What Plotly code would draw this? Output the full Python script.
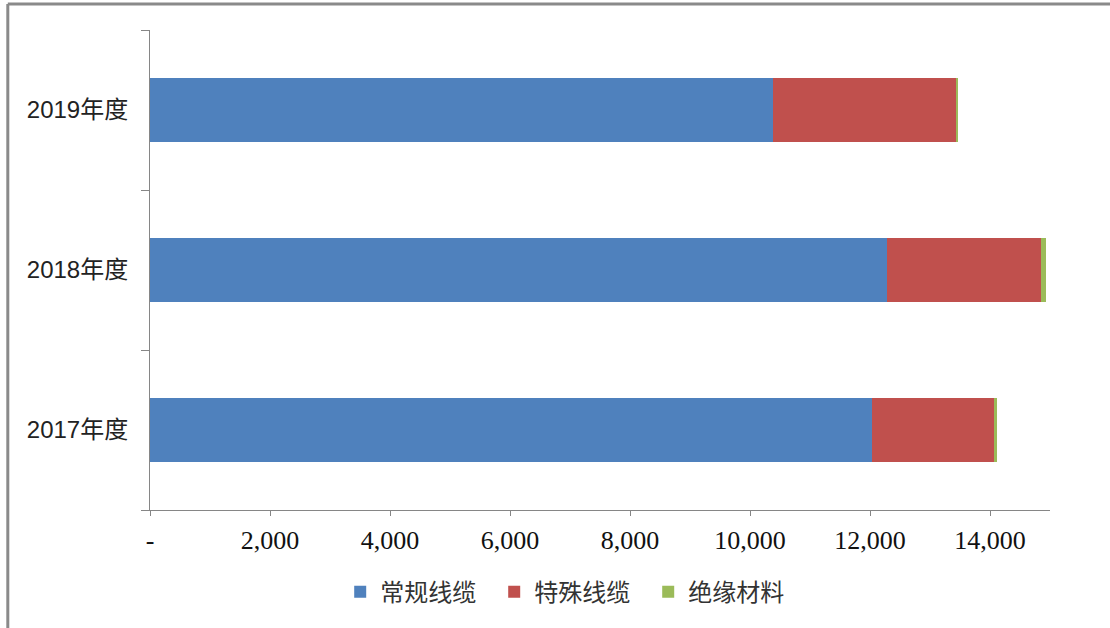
import plotly.graph_objects as go

categories = ["2017年度", "2018年度", "2019年度"]
series_names = ["常规线缆", "特殊线缆", "绝缘材料"]
conventional = [12040, 12285, 10385]
special = [2028, 2572, 3050]
insulation = [50, 78, 25]
colors = ["#4F81BD", "#C0504D", "#9BBB59"]
x_tickvals = [0, 2000, 4000, 6000, 8000, 10000, 12000, 14000]
x_ticktext = ["-", "2,000", "4,000", "6,000", "8,000", "10,000", "12,000", "14,000"]

fig = go.Figure()
for name, vals, col in zip(series_names, [conventional, special, insulation], colors):
    fig.add_trace(go.Bar(
        y=categories, x=vals, name=name, orientation="h",
        marker=dict(color=col, line=dict(width=0)),
    ))

axis_col = "#868686"
fig.update_layout(
    width=1110, height=628,
    barmode="stack", bargap=0.6,
    paper_bgcolor="white", plot_bgcolor="white",
    margin=dict(l=150, r=60, t=30, b=118),
    showlegend=True,
    legend=dict(orientation="h", x=0.468, xanchor="center", y=-0.171, yanchor="middle",
                font=dict(family="Noto Sans CJK SC", size=24, color="#333333"),
                traceorder="normal", itemwidth=30, entrywidth=109, entrywidthmode="pixels"),
    xaxis=dict(range=[0, 15000], tickvals=x_tickvals, ticktext=x_ticktext,
               showgrid=False, zeroline=False, showline=True, linecolor=axis_col, linewidth=1,
               ticks="outside", ticklen=5, tickcolor=axis_col,
               tickfont=dict(family="Liberation Serif", size=26, color="#111111"),
               ticklabelstandoff=2),
    yaxis=dict(type="category", categoryorder="array", categoryarray=categories,
               showgrid=False, zeroline=False, showline=True, linecolor=axis_col, linewidth=1,
               ticks="outside", ticklen=8, tickcolor=axis_col, tickson="boundaries",
               tickfont=dict(family="Liberation Sans, Noto Sans CJK SC", size=24, color="#222222"),
               ticklabelstandoff=16),
    shapes=[
        dict(type="line", xref="paper", yref="paper", x0=-0.158, x1=1.2, y0=1.054, y1=1.054,
             line=dict(color="#8A8A8A", width=3)),
        dict(type="line", xref="paper", yref="paper", x0=-0.158, x1=-0.158, y0=1.054, y1=-0.3,
             line=dict(color="#8A8A8A", width=3)),
    ],
)

fig.write_html("out.html", config={"displayModeBar": False},
               post_script="document.body.style.margin='0';")
